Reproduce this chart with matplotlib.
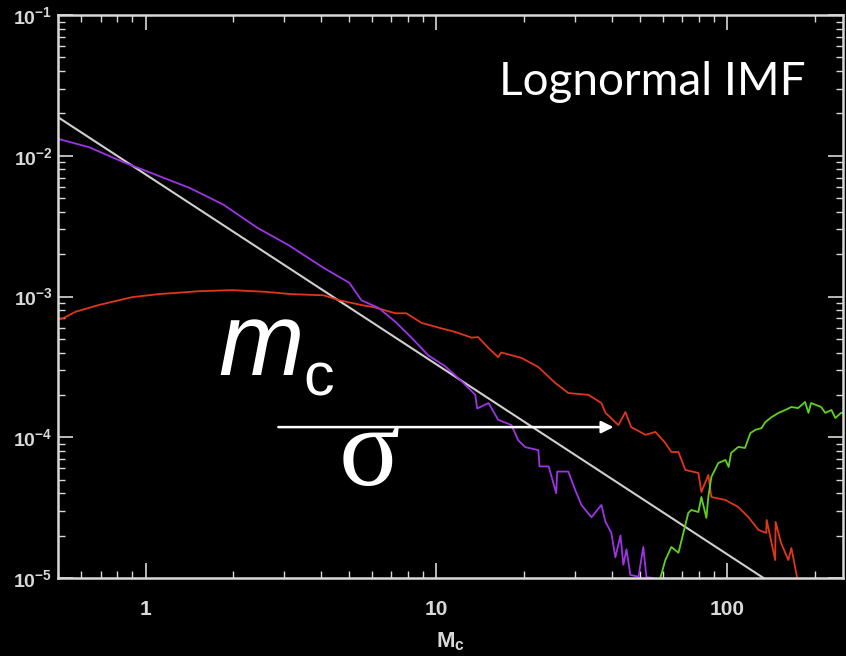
import numpy as np
import matplotlib
matplotlib.use("Agg")
import matplotlib.pyplot as plt
from matplotlib.ticker import LogLocator, LogFormatterMathtext, NullFormatter

# values
purple_m = [0.5, 0.64, 0.84, 1.09, 1.42, 1.85, 2.41, 3.12, 4.09, 5.02, 5.52, 6.32,
            7.23, 8.2, 9.4, 10.7, 12.2, 13.6, 13.8, 15.1, 16.3, 18.1, 19.1, 20.2,
            22.4, 22.6, 24.3, 25.8, 26.0, 28.4, 30.0, 31.5, 34.1, 36.9, 38.1, 39.9,
            41.2, 42.9, 43.9, 45.0, 46.4, 49.5, 51.4, 52.7, 55.7]
purple_n = [0.0132, 0.0115, 0.0090, 0.0073, 0.0059, 0.0045, 0.0031, 0.0023, 0.0016,
            0.00125, 0.00094, 0.00083, 0.00066, 0.00051, 0.00038, 0.00032, 0.00025,
            0.00020, 0.00016, 1.75e-4, 1.33e-4, 1.22e-4, 9.5e-5, 8.5e-5, 8.1e-5,
            6.2e-5, 6.2e-5, 4.0e-5, 5.7e-5, 5.7e-5, 4.2e-5, 3.3e-5, 2.7e-5, 3.3e-5,
            2.5e-5, 2.1e-5, 1.4e-5, 2.0e-5, 1.24e-5, 1.6e-5, 1.05e-5, 1.02e-5,
            1.66e-5, 1.01e-5, 1.0e-5]

red_m = [0.5, 0.52, 0.575, 0.69, 0.9, 1.11, 1.52, 1.98, 2.58, 3.17, 4.09, 4.64, 5.52,
         6.08, 7.23, 7.88, 8.88, 10.2, 11.6, 13.2, 13.9, 15.1, 16.3, 16.7, 19.6, 22.4,
         25.6, 28.4, 33.3, 36.9, 38.1, 42.2, 44.6, 46.7, 52.3, 56.6, 61.2, 64.2, 67.9,
         71.7, 79.5, 81.4, 86.0, 88.1, 98.5, 109, 118, 128, 136, 136.5, 146, 146.5,
         153, 162, 166, 173, 175]
red_n = [6.9e-4, 7.0e-4, 7.8e-4, 8.7e-4, 9.9e-4, 1.04e-3, 1.09e-3, 1.11e-3, 1.08e-3,
         1.04e-3, 1.02e-3, 9.4e-4, 8.7e-4, 8.4e-4, 7.6e-4, 7.6e-4, 6.5e-4, 6.0e-4,
         5.6e-4, 5.1e-4, 5.15e-4, 4.3e-4, 3.7e-4, 4.0e-4, 3.66e-4, 3.15e-4, 2.43e-4,
         2.06e-4, 2.0e-4, 1.75e-4, 1.49e-4, 1.22e-4, 1.51e-4, 1.18e-4, 1.04e-4,
         1.09e-4, 9.1e-5, 7.85e-5, 7.85e-5, 5.85e-5, 5.57e-5, 4.08e-5, 5.39e-5,
         3.76e-5, 3.58e-5, 3.19e-5, 2.71e-5, 2.19e-5, 2.09e-5, 2.58e-5, 1.34e-5,
         2.5e-5, 1.77e-5, 1.34e-5, 1.63e-5, 1.05e-5, 9.0e-6]

green_m = [58.0, 61.2, 64.2, 67.9, 70.6, 73.4, 75.2, 79.5, 81.4, 84.7, 86.0, 88.1, 93.1,
           98.5, 101, 103, 109, 115, 120, 125, 131, 135, 142, 150, 158, 166, 175, 185,
           190, 194, 210, 217, 228, 235, 246, 250]
green_n = [9.0e-6, 1.34e-5, 1.66e-5, 1.51e-5, 2.09e-5, 2.9e-5, 3.04e-5, 2.94e-5,
           3.76e-5, 2.67e-5, 3.76e-5, 5.22e-5, 6.56e-5, 6.89e-5, 6.15e-5, 7.73e-5,
           8.53e-5, 8.39e-5, 1.07e-4, 1.13e-4, 1.16e-4, 1.28e-4, 1.39e-4, 1.49e-4,
           1.56e-4, 1.64e-4, 1.61e-4, 1.78e-4, 1.49e-4, 1.75e-4, 1.64e-4, 1.49e-4,
           1.56e-4, 1.37e-4, 1.49e-4, 1.49e-4]

# power-law reference line (end points)
line_m = [0.5, 133]
line_n = [0.0188, 1.0e-5]

# sigma arrow
arrow_m = [2.86, 40.6]
arrow_n = [1.18e-4, 1.18e-4]

x_ticks = [1, 10, 100]
x_ticklabels = ["1", "10", "100"]

fg = "#d9d9d9"
plt.rcParams["font.family"] = ["Liberation Sans", "DejaVu Sans"]
plt.rcParams["font.weight"] = "bold"
plt.rcParams["mathtext.fontset"] = "custom"
plt.rcParams["mathtext.rm"] = "Liberation Sans:bold"
plt.rcParams["mathtext.bf"] = "Liberation Sans:bold"
plt.rcParams["mathtext.default"] = "regular"

fig = plt.figure(figsize=(8.46, 6.56), dpi=100, facecolor="black")
ax = fig.add_axes([0.0686, 0.119, 0.928, 0.858], facecolor="black")

ax.plot(line_m, line_n, color="#cfcfcf", lw=1.5)
ax.plot(red_m, red_n, color="#e0361c", lw=1.3)
ax.plot(purple_m, purple_n, color="#9d34e6", lw=1.3)
ax.plot(green_m, green_n, color="#5fd21e", lw=1.3)

ax.annotate("", xy=(arrow_m[1], arrow_n[1]), xytext=(arrow_m[0], arrow_n[0]),
            arrowprops=dict(arrowstyle="-|>", color="white", lw=1.8,
                            mutation_scale=18, shrinkA=0, shrinkB=0))

ax.set_xscale("log")
ax.set_yscale("log")
ax.set_xlim(0.5, 250)
ax.set_ylim(1e-5, 1e-1)

ax.set_xticks(x_ticks)
ax.set_xticklabels(x_ticklabels)
ax.xaxis.set_minor_formatter(NullFormatter())
ax.yaxis.set_major_locator(LogLocator(base=10))
ax.yaxis.set_major_formatter(LogFormatterMathtext())
ax.yaxis.set_minor_locator(LogLocator(base=10, subs=np.arange(2, 10)))
ax.yaxis.set_minor_formatter(NullFormatter())

ax.tick_params(which="both", direction="in", top=True, right=True, colors=fg)
ax.tick_params(which="major", length=11, width=1.2)
ax.tick_params(which="minor", length=5, width=1.0)
ax.tick_params(axis="x", which="major", pad=16, labelsize=15)
ax.tick_params(axis="y", which="major", pad=4, labelsize=14)
for s in ax.spines.values():
    s.set_color(fg)
    s.set_linewidth(1.8)

ax.set_xlabel("M$_c$", color=fg, fontsize=16, fontweight="bold", labelpad=8)

ax.text(0.952, 0.858, "Lognormal IMF", transform=ax.transAxes, ha="right",
        va="baseline", color="white", fontsize=33, fontweight="normal",
        family=["Lato", "DejaVu Sans"])
ax.text(0.204, 0.361, "m", transform=ax.transAxes, ha="left", va="baseline",
        color="white", fontsize=74, style="italic", fontweight="normal")
ax.text(0.312, 0.325, "c", transform=ax.transAxes, ha="left", va="baseline",
        color="white", fontsize=44, fontweight="normal")
ax.text(0.357, 0.165, "σ", transform=ax.transAxes, ha="left", va="baseline",
        color="white", fontsize=82, fontweight="normal",
        family=["Liberation Serif", "DejaVu Serif"])

fig.savefig("out.png", dpi=100, facecolor="black")
